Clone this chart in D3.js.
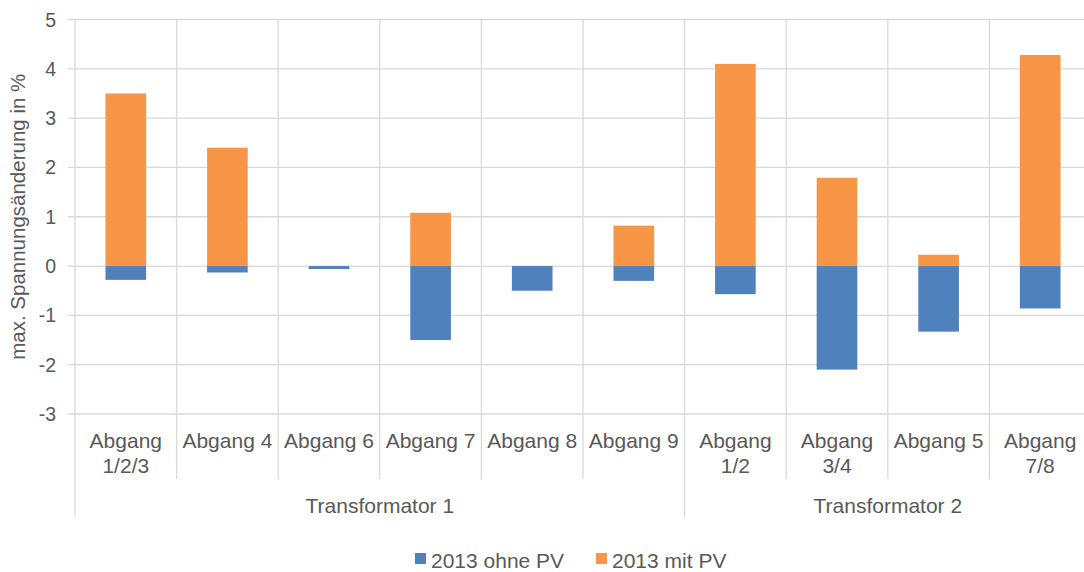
<!DOCTYPE html>
<html>
<head>
<meta charset="utf-8">
<script src="https://cdn.jsdelivr.net/npm/d3@7"></script>
<style>
  html, body { margin: 0; padding: 0; background: #fff; }
  svg { display: block; font-family: "Liberation Sans", Arial, sans-serif; }
</style>
</head>
<body>
<svg id="chart" width="1084" height="572"></svg>
<script>
// ---- data ----
const categories = [
  ["Abgang", "1/2/3"], ["Abgang 4"], ["Abgang 6"], ["Abgang 7"], ["Abgang 8"],
  ["Abgang 9"], ["Abgang", "1/2"], ["Abgang", "3/4"], ["Abgang 5"], ["Abgang", "7/8"]
];
const groups = ["Transformator 1", "Transformator 2"];
const groupOfCategory = [0, 0, 0, 0, 0, 0, 1, 1, 1, 1];
const seriesNames = ["2013 ohne PV", "2013 mit PV"];
const ohnePV = [-0.28, -0.13, -0.06, -1.50, -0.50, -0.30, -0.57, -2.10, -1.33, -0.86];
const mitPV  = [3.50, 2.40, 0, 1.08, 0, 0.82, 4.10, 1.79, 0.23, 4.28];
const yTicks = [-3, -2, -1, 0, 1, 2, 3, 4, 5];

// ---- layout ----
const svg = d3.select("#chart");
const pLeft = 75, pRight = 1091, pTop = 19.5, pBottom = 414;
const textColor = "#595959", gridColor = "#d9d9d9";
const colors = ["#4F81BD", "#F79646"];

const x = d3.scaleBand().domain(d3.range(categories.length)).range([pLeft, pRight]).paddingInner(0).paddingOuter(0);
const y = d3.scaleLinear().domain([-3, 5]).range([pBottom, pTop]);
const bw = x.bandwidth() * 0.4;

// horizontal gridlines + outward ticks
svg.append("g").selectAll("line").data(yTicks).join("line")
  .attr("x1", pLeft - 7).attr("x2", pRight)
  .attr("y1", d => y(d)).attr("y2", d => y(d))
  .attr("stroke", gridColor).attr("stroke-width", 1.3);

// vertical gridlines (category boundaries) and category ticks
const boundaries = d3.range(categories.length + 1);
const isGroupEdge = i => i === 0 || i === categories.length || groupOfCategory[i] !== groupOfCategory[i - 1];
svg.append("g").selectAll("line").data(boundaries).join("line")
  .attr("x1", i => i < categories.length ? x(i) : pRight)
  .attr("x2", i => i < categories.length ? x(i) : pRight)
  .attr("y1", pTop)
  .attr("y2", i => isGroupEdge(i) ? 517 : 479)
  .attr("stroke", gridColor).attr("stroke-width", 1.3);

// y tick labels
svg.append("g").selectAll("text").data(yTicks).join("text")
  .attr("x", 56).attr("y", d => y(d)).attr("dy", "0.36em")
  .attr("text-anchor", "end").attr("fill", textColor).attr("font-size", 19.5)
  .text(d => d);

// y axis title
svg.append("text")
  .attr("transform", `translate(25,${(pTop + pBottom) / 2}) rotate(-90)`)
  .attr("text-anchor", "middle").attr("fill", textColor).attr("font-size", 20.5)
  .text("max. Spannungsänderung in %");

// bars
const barG = svg.append("g");
barG.selectAll("rect.ohne").data(ohnePV).join("rect").attr("class", "ohne")
  .attr("x", (d, i) => x(i) + (x.bandwidth() - bw) / 2).attr("width", bw)
  .attr("y", d => y(Math.max(0, d))).attr("height", d => Math.abs(y(d) - y(0)))
  .attr("fill", colors[0]);
barG.selectAll("rect.mit").data(mitPV).join("rect").attr("class", "mit")
  .attr("x", (d, i) => x(i) + (x.bandwidth() - bw) / 2).attr("width", bw)
  .attr("y", d => y(Math.max(0, d))).attr("height", d => Math.abs(y(d) - y(0)))
  .attr("fill", colors[1]);

// category labels
const catG = svg.append("g");
categories.forEach((lines, i) => {
  const t = catG.append("text")
    .attr("x", x(i) + x.bandwidth() / 2).attr("y", 447.5)
    .attr("text-anchor", "middle").attr("fill", textColor).attr("font-size", 21);
  lines.forEach((ln, k) => {
    t.append("tspan").attr("x", x(i) + x.bandwidth() / 2).attr("dy", k === 0 ? 0 : 25.4).text(ln);
  });
});

// group labels
groups.forEach((g, gi) => {
  const idx = d3.range(categories.length).filter(i => groupOfCategory[i] === gi);
  const x0 = x(idx[0]), x1 = x(idx[idx.length - 1]) + x.bandwidth();
  svg.append("text").attr("x", (x0 + x1) / 2).attr("y", 512.5)
    .attr("text-anchor", "middle").attr("fill", textColor).attr("font-size", 21)
    .text(g);
});

// legend
const legendX = [415, 596];
seriesNames.forEach((s, i) => {
  svg.append("rect").attr("x", legendX[i]).attr("y", 553).attr("width", 11).attr("height", 11).attr("fill", colors[i]);
  svg.append("text").attr("x", legendX[i] + 16).attr("y", 567.5)
    .attr("fill", textColor).attr("font-size", 21).text(s);
});
</script>
</body>
</html>
